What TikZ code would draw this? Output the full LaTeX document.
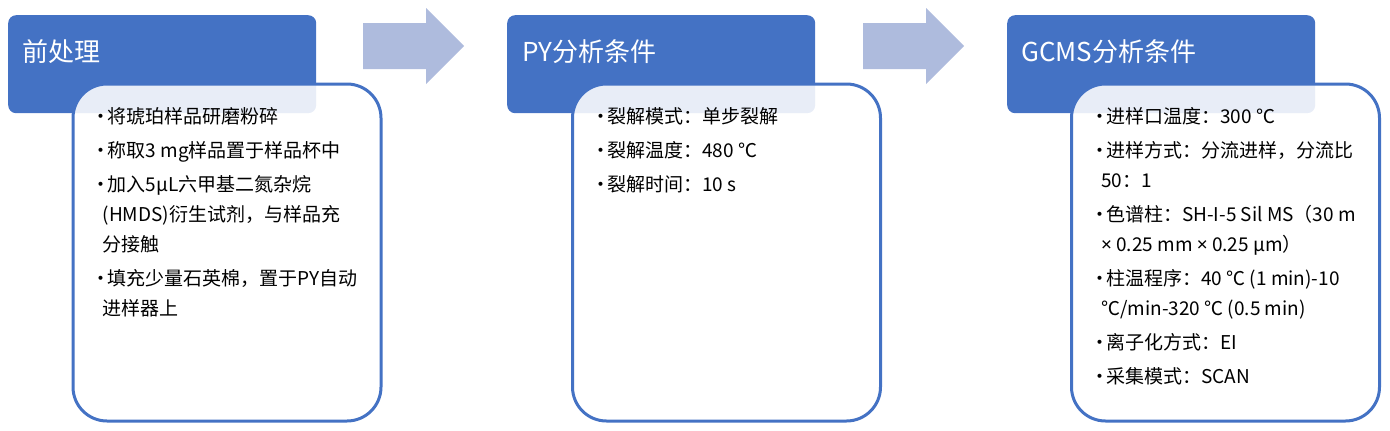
\documentclass[tikz,border=0pt]{standalone}
\usepackage{fontspec}
\setmainfont{Noto Sans CJK SC}
\newfontfamily\latinfont{Noto Sans}
\usetikzlibrary{
    positioning,
    calc
}
\definecolor{headblue}{RGB}{68, 114, 196}
\definecolor{arrowblue}{RGB}{174, 187, 221}
\tikzset{
    header/.style={fill=headblue, rounded corners=8pt, minimum width=308pt, minimum height=98pt, inner sep=0pt, anchor=north west},
    bodybox/.style={draw=headblue, line width=3pt, fill=white, fill opacity=0.88, rounded corners=34pt, minimum width=308pt, minimum height=337pt, inner sep=0pt, anchor=north west},
    headtext/.style={text=white, font=\fontsize{26pt}{30pt}\selectfont, inner sep=0pt, anchor=base west},
    itemlist/.style={align=left, font=\fontsize{19pt}{30pt}\selectfont, inner sep=0pt, anchor=north west},
    flowarrow/.style={fill=arrowblue}
}
\newcommand{\itm}{\makebox[13pt][c]{•}}
\newcommand{\cont}{\hspace*{8pt}}
\newcommand{\tms}{{\latinfont ×}}

\begin{document}
\begin{tikzpicture}[x=1pt, y=-1pt]
        \useasboundingbox (0,0) rectangle (1390,431);

        % Pretreatment panel
        \node[header] (h1) at (8,15) {};
        \node[headtext] (t1) at ($(h1.north west)+(14,46)$) {前处理};
        \node[bodybox] (b1) at (71.5,82.5) {};
        \node[itemlist] (l1) at ($(b1.north west)+(23,25)$) {%
            \itm 将琥珀样品研磨粉碎\\[4pt]
            \itm 称取3 mg样品置于样品杯中\\[4pt]
            \itm 加入5μL六甲基二氮杂烷\\
            \cont (HMDS)衍生试剂，与样品充\\
            \cont 分接触\\[4pt]
            \itm 填充少量石英棉，置于PY自动\\
            \cont 进样器上};

        % Arrows between panels
        \foreach \s in {0,500} {
            \fill[flowarrow] (363+\s,23) -- (426+\s,23) -- (426+\s,8) -- (464+\s,46)
                -- (426+\s,84) -- (426+\s,69) -- (363+\s,69) -- cycle;
        }

        % PY panel
        \begin{scope}[shift={(500,0)}]
            \node[header] (h2) at (7,15) {};
            \node[headtext] (t2) at ($(h2.north west)+(15,46)$) {PY分析条件};
            \node[bodybox] (b2) at (71,82.5) {};
            \node[itemlist] (l2) at ($(b2.north west)+(23,25)$) {%
                \itm 裂解模式：单步裂解\\[4pt]
                \itm 裂解温度：480 ℃\\[4pt]
                \itm 裂解时间：10 s};
        \end{scope}

        % GCMS panel
        \begin{scope}[shift={(1000,0)}]
            \node[header] (h3) at (7,15) {};
            \node[headtext] (t3) at ($(h3.north west)+(14,46)$) {GCMS分析条件};
            \node[bodybox] (b3) at (70,82.5) {};
            \node[itemlist] (l3) at ($(b3.north west)+(23,25)$) {%
                \itm 进样口温度：300 ℃\\[4pt]
                \itm 进样方式：分流进样，分流比\\
                \cont 50：1\\[4pt]
                \itm 色谱柱：SH-I-5 Sil MS（30 m\\
                \cont \tms{} 0.25 mm \tms{} 0.25 μm）\\[4pt]
                \itm 柱温程序：40 ℃ (1 min)-10\\
                \cont ℃/min-320 ℃ (0.5 min)\\[4pt]
                \itm 离子化方式：EI\\[4pt]
                \itm 采集模式：SCAN};
        \end{scope}
    \end{tikzpicture}
\end{document}
